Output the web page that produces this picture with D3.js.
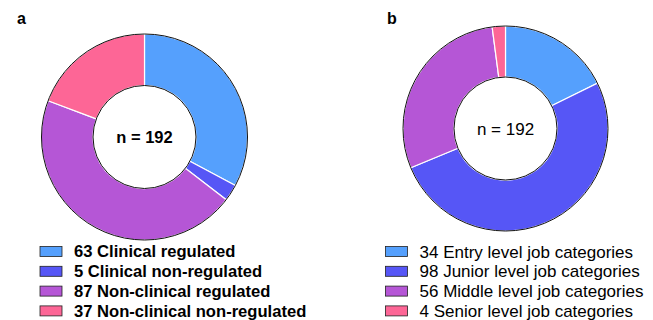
<!DOCTYPE html>
<html><head><meta charset="utf-8">
<script src="https://cdn.jsdelivr.net/npm/d3@7"></script>
<style>body{margin:0;background:#fff}svg{display:block}text{font-family:"Liberation Sans",Arial,sans-serif}</style>
</head><body>
<svg id="c" width="653" height="320"></svg>
<script>
const colors = ["#55a0fd", "#5656f6", "#b556d6", "#fd6696"];
const labelsA = ["Clinical regulated", "Clinical non-regulated", "Non-clinical regulated", "Non-clinical non-regulated"];
const valuesA = [63, 5, 87, 37];
const labelsB = ["Entry level job categories", "Junior level job categories", "Middle level job categories", "Senior level job categories"];
const valuesB = [34, 98, 56, 4];
const totalLabel = "n = 192";

const svg = d3.select("#c");

function donut(cfg) {
  const g = svg.append("g").attr("transform", `translate(${cfg.cx},${cfg.cy})`);
  const pie = d3.pie().sort(null).value(d => d)(cfg.values);
  const arc = d3.arc().innerRadius(cfg.ri).outerRadius(cfg.ro);
  g.selectAll("path.seg").data(pie).join("path").attr("class", "seg")
    .attr("d", arc).attr("fill", (d, i) => colors[i])
    .attr("stroke", "#fff").attr("stroke-width", 1.2);
  g.append("circle").attr("r", cfg.ro).attr("fill", "none").attr("stroke", "#111").attr("stroke-width", 1);
  g.append("circle").attr("r", cfg.ri).attr("fill", "none").attr("stroke", "#111").attr("stroke-width", 1);
  g.append("text").attr("text-anchor", "middle").attr("dy", "0.36em")
    .attr("font-size", cfg.nSize).attr("font-weight", cfg.bold ? "bold" : "normal")
    .text(totalLabel);
  svg.append("text").attr("x", cfg.lx).attr("y", cfg.ly).attr("font-size", 16).attr("font-weight", "bold").text(cfg.letter);
  const lg = svg.append("g");
  cfg.labels.forEach((lab, i) => {
    const y = cfg.legY + i * 19.8;
    lg.append("rect").attr("x", cfg.legX).attr("y", y - 5).attr("width", 22).attr("height", 10)
      .attr("fill", colors[i]).attr("stroke", "#222").attr("stroke-width", 0.8);
    lg.append("text").attr("x", cfg.legX + cfg.textOff).attr("y", y).attr("dy", "0.36em")
      .attr("font-size", cfg.legSize).attr("font-weight", cfg.bold ? "bold" : "normal")
      .text(cfg.values[i] + " " + lab);
  });
}

donut({cx: 144.5, cy: 137, ro: 103, ri: 51.5, values: valuesA, labels: labelsA, bold: true, nSize: 16.5, legSize: 16.6,
       letter: "a", lx: 17, ly: 24, legX: 40, legY: 251.5, textOff: 34});
donut({cx: 505.5, cy: 128.5, ro: 102.5, ri: 51.5, values: valuesB, labels: labelsB, bold: false, nSize: 17, legSize: 17,
       letter: "b", lx: 387, ly: 24, legX: 385.5, legY: 251.5, textOff: 34});
</script>
</body></html>
